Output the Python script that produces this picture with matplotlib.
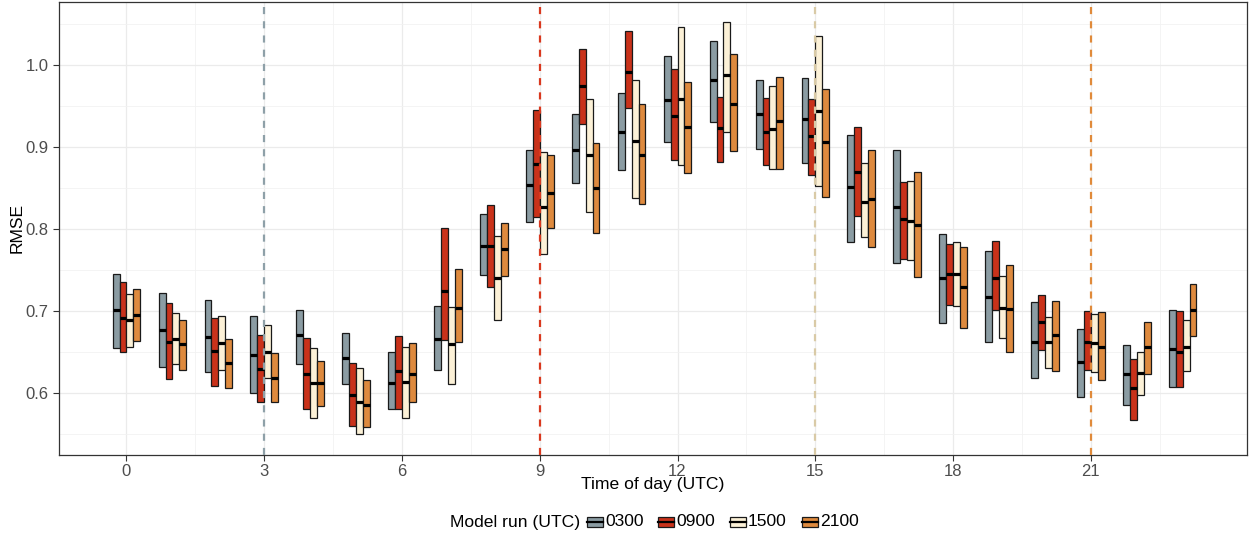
import numpy as np
import matplotlib
matplotlib.use("Agg")
import matplotlib.pyplot as plt
from matplotlib.patches import Rectangle
from matplotlib.lines import Line2D

plt.rcParams["font.family"] = ["Liberation Sans", "DejaVu Sans"]

hours = np.arange(24)
runs = ["0300", "0900", "1500", "2100"]
run_colors = ["#8b9ca3", "#c9321a", "#fcf1d7", "#de8a3e"]
line_colors = ["#8ea0a8", "#d9381e", "#d9caa6", "#e08a3a"]
run_hours = [3, 9, 15, 21]

lo_0300 = [0.655, 0.632, 0.626, 0.600, 0.636, 0.611, 0.581, 0.629, 0.744, 0.809, 0.856, 0.872,
           0.906, 0.931, 0.898, 0.881, 0.785, 0.759, 0.686, 0.662, 0.619, 0.596, 0.586, 0.608]
med_0300 = [0.702, 0.677, 0.669, 0.647, 0.671, 0.643, 0.613, 0.666, 0.780, 0.854, 0.896, 0.918,
            0.957, 0.982, 0.940, 0.934, 0.851, 0.827, 0.741, 0.717, 0.663, 0.638, 0.624, 0.654]
hi_0300 = [0.745, 0.722, 0.714, 0.694, 0.702, 0.673, 0.651, 0.706, 0.818, 0.897, 0.941, 0.966,
           1.011, 1.029, 0.982, 0.984, 0.915, 0.896, 0.794, 0.774, 0.711, 0.679, 0.659, 0.702]

lo_0900 = [0.650, 0.617, 0.609, 0.589, 0.581, 0.560, 0.581, 0.665, 0.730, 0.815, 0.928, 0.948,
           0.884, 0.882, 0.878, 0.866, 0.816, 0.764, 0.708, 0.702, 0.653, 0.629, 0.568, 0.608]
med_0900 = [0.692, 0.663, 0.652, 0.630, 0.623, 0.598, 0.627, 0.725, 0.779, 0.879, 0.974, 0.992,
            0.938, 0.923, 0.919, 0.914, 0.870, 0.813, 0.746, 0.741, 0.687, 0.663, 0.607, 0.650]
hi_0900 = [0.736, 0.710, 0.692, 0.671, 0.668, 0.637, 0.670, 0.802, 0.830, 0.945, 1.020, 1.042,
           0.995, 0.961, 0.960, 0.959, 0.924, 0.858, 0.782, 0.786, 0.720, 0.700, 0.642, 0.700]

lo_1500 = [0.657, 0.636, 0.629, 0.619, 0.570, 0.550, 0.570, 0.611, 0.690, 0.770, 0.821, 0.838,
           0.878, 0.918, 0.873, 0.853, 0.790, 0.762, 0.706, 0.667, 0.631, 0.626, 0.598, 0.627]
med_1500 = [0.689, 0.666, 0.661, 0.651, 0.613, 0.590, 0.614, 0.660, 0.741, 0.827, 0.890, 0.908,
            0.959, 0.988, 0.922, 0.944, 0.833, 0.810, 0.746, 0.704, 0.662, 0.661, 0.625, 0.657]
hi_1500 = [0.721, 0.698, 0.694, 0.683, 0.655, 0.631, 0.656, 0.705, 0.792, 0.894, 0.959, 0.982,
           1.047, 1.053, 0.974, 1.036, 0.881, 0.859, 0.785, 0.743, 0.693, 0.697, 0.651, 0.689]

lo_2100 = [0.664, 0.629, 0.606, 0.589, 0.585, 0.559, 0.590, 0.662, 0.743, 0.802, 0.795, 0.831,
           0.869, 0.895, 0.873, 0.839, 0.778, 0.742, 0.680, 0.651, 0.627, 0.616, 0.624, 0.670]
med_2100 = [0.696, 0.660, 0.637, 0.619, 0.613, 0.586, 0.624, 0.704, 0.776, 0.844, 0.850, 0.891,
            0.925, 0.952, 0.932, 0.906, 0.837, 0.805, 0.729, 0.703, 0.671, 0.656, 0.657, 0.701]
hi_2100 = [0.727, 0.689, 0.666, 0.649, 0.639, 0.616, 0.661, 0.752, 0.808, 0.891, 0.905, 0.952,
           0.980, 1.014, 0.986, 0.971, 0.897, 0.870, 0.778, 0.757, 0.713, 0.699, 0.687, 0.733]

lows = [lo_0300, lo_0900, lo_1500, lo_2100]
meds = [med_0300, med_0900, med_1500, med_2100]
highs = [hi_0300, hi_0900, hi_1500, hi_2100]

W, H = 1253, 533
fig = plt.figure(figsize=(W / 100, H / 100), dpi=100)
ax = fig.add_axes([58.5 / W, 1 - 454.5 / H, (1247 - 58.5) / W, (454.5 - 1.5) / H])

bw = 0.15
offsets = [-0.225, -0.075, 0.075, 0.225]
for lo, md, hi, col, off in zip(lows, meds, highs, run_colors, offsets):
    lo, md, hi = np.array(lo), np.array(md), np.array(hi)
    x = hours + off
    ax.bar(x, hi - lo, bottom=lo, width=bw, color=col, edgecolor="#1a1a1a",
           linewidth=0.9, zorder=3)
    ax.hlines(md, x - bw / 2, x + bw / 2, colors="black", linewidth=2.3,
              zorder=4, capstyle="butt")

for h, c in zip(run_hours, line_colors):
    ax.axvline(h, color=c, linewidth=1.6, linestyle=(0, (3.2, 3.2)), zorder=5)

ax.set_xlim(-1.48, 24.4)
ax.set_ylim(0.5255, 1.0775)
ax.set_xticks(np.arange(0, 22, 3))
ax.set_xticks(np.arange(1.5, 23, 3), minor=True)
ax.set_yticks([0.6, 0.7, 0.8, 0.9, 1.0])
ax.set_yticklabels(["0.6", "0.7", "0.8", "0.9", "1.0"])
ax.set_yticks(np.arange(0.55, 1.06, 0.1), minor=True)
ax.grid(which="major", color="#ebebeb", linewidth=0.9, zorder=0)
ax.grid(which="minor", color="#f2f2f2", linewidth=0.6, zorder=0)
ax.set_axisbelow(True)
ax.tick_params(which="major", length=4, width=0.8, color="#333333",
               labelsize=12, labelcolor="#4d4d4d", pad=3)
ax.tick_params(which="minor", length=0)
for s in ax.spines.values():
    s.set_color("#333333")
    s.set_linewidth(0.9)

ax.set_xlabel("Time of day (UTC)", fontsize=12.6)
ax.set_ylabel("RMSE", fontsize=12.6)
ax.xaxis.set_label_coords(0.5, (454.5 - 485) / 453, transform=ax.transAxes)
ax.yaxis.set_label_coords((17 - 58.5) / (1247 - 58.5), 0.5, transform=ax.transAxes)
ax.xaxis.label.set_va("center")
ax.yaxis.label.set_va("center")

# legend along the bottom
ly = 1 - 522 / H
fig.text(450 / W, ly, "Model run (UTC)", fontsize=12.6, ha="left", va="center")
key_x = [587, 658, 730, 802]
for kx, col, name in zip(key_x, run_colors, runs):
    fig.patches.append(Rectangle((kx / W, 1 - 527 / H), 16 / W, 10 / H,
                                 transform=fig.transFigure, facecolor=col,
                                 edgecolor="#1a1a1a", linewidth=0.9))
    fig.lines.append(Line2D([kx / W, (kx + 16) / W], [ly, ly], transform=fig.transFigure,
                            color="black", linewidth=1.6))
    fig.text((kx + 18) / W, ly, name, fontsize=12.6, ha="left", va="center")

fig.savefig("out.png", dpi=100)
